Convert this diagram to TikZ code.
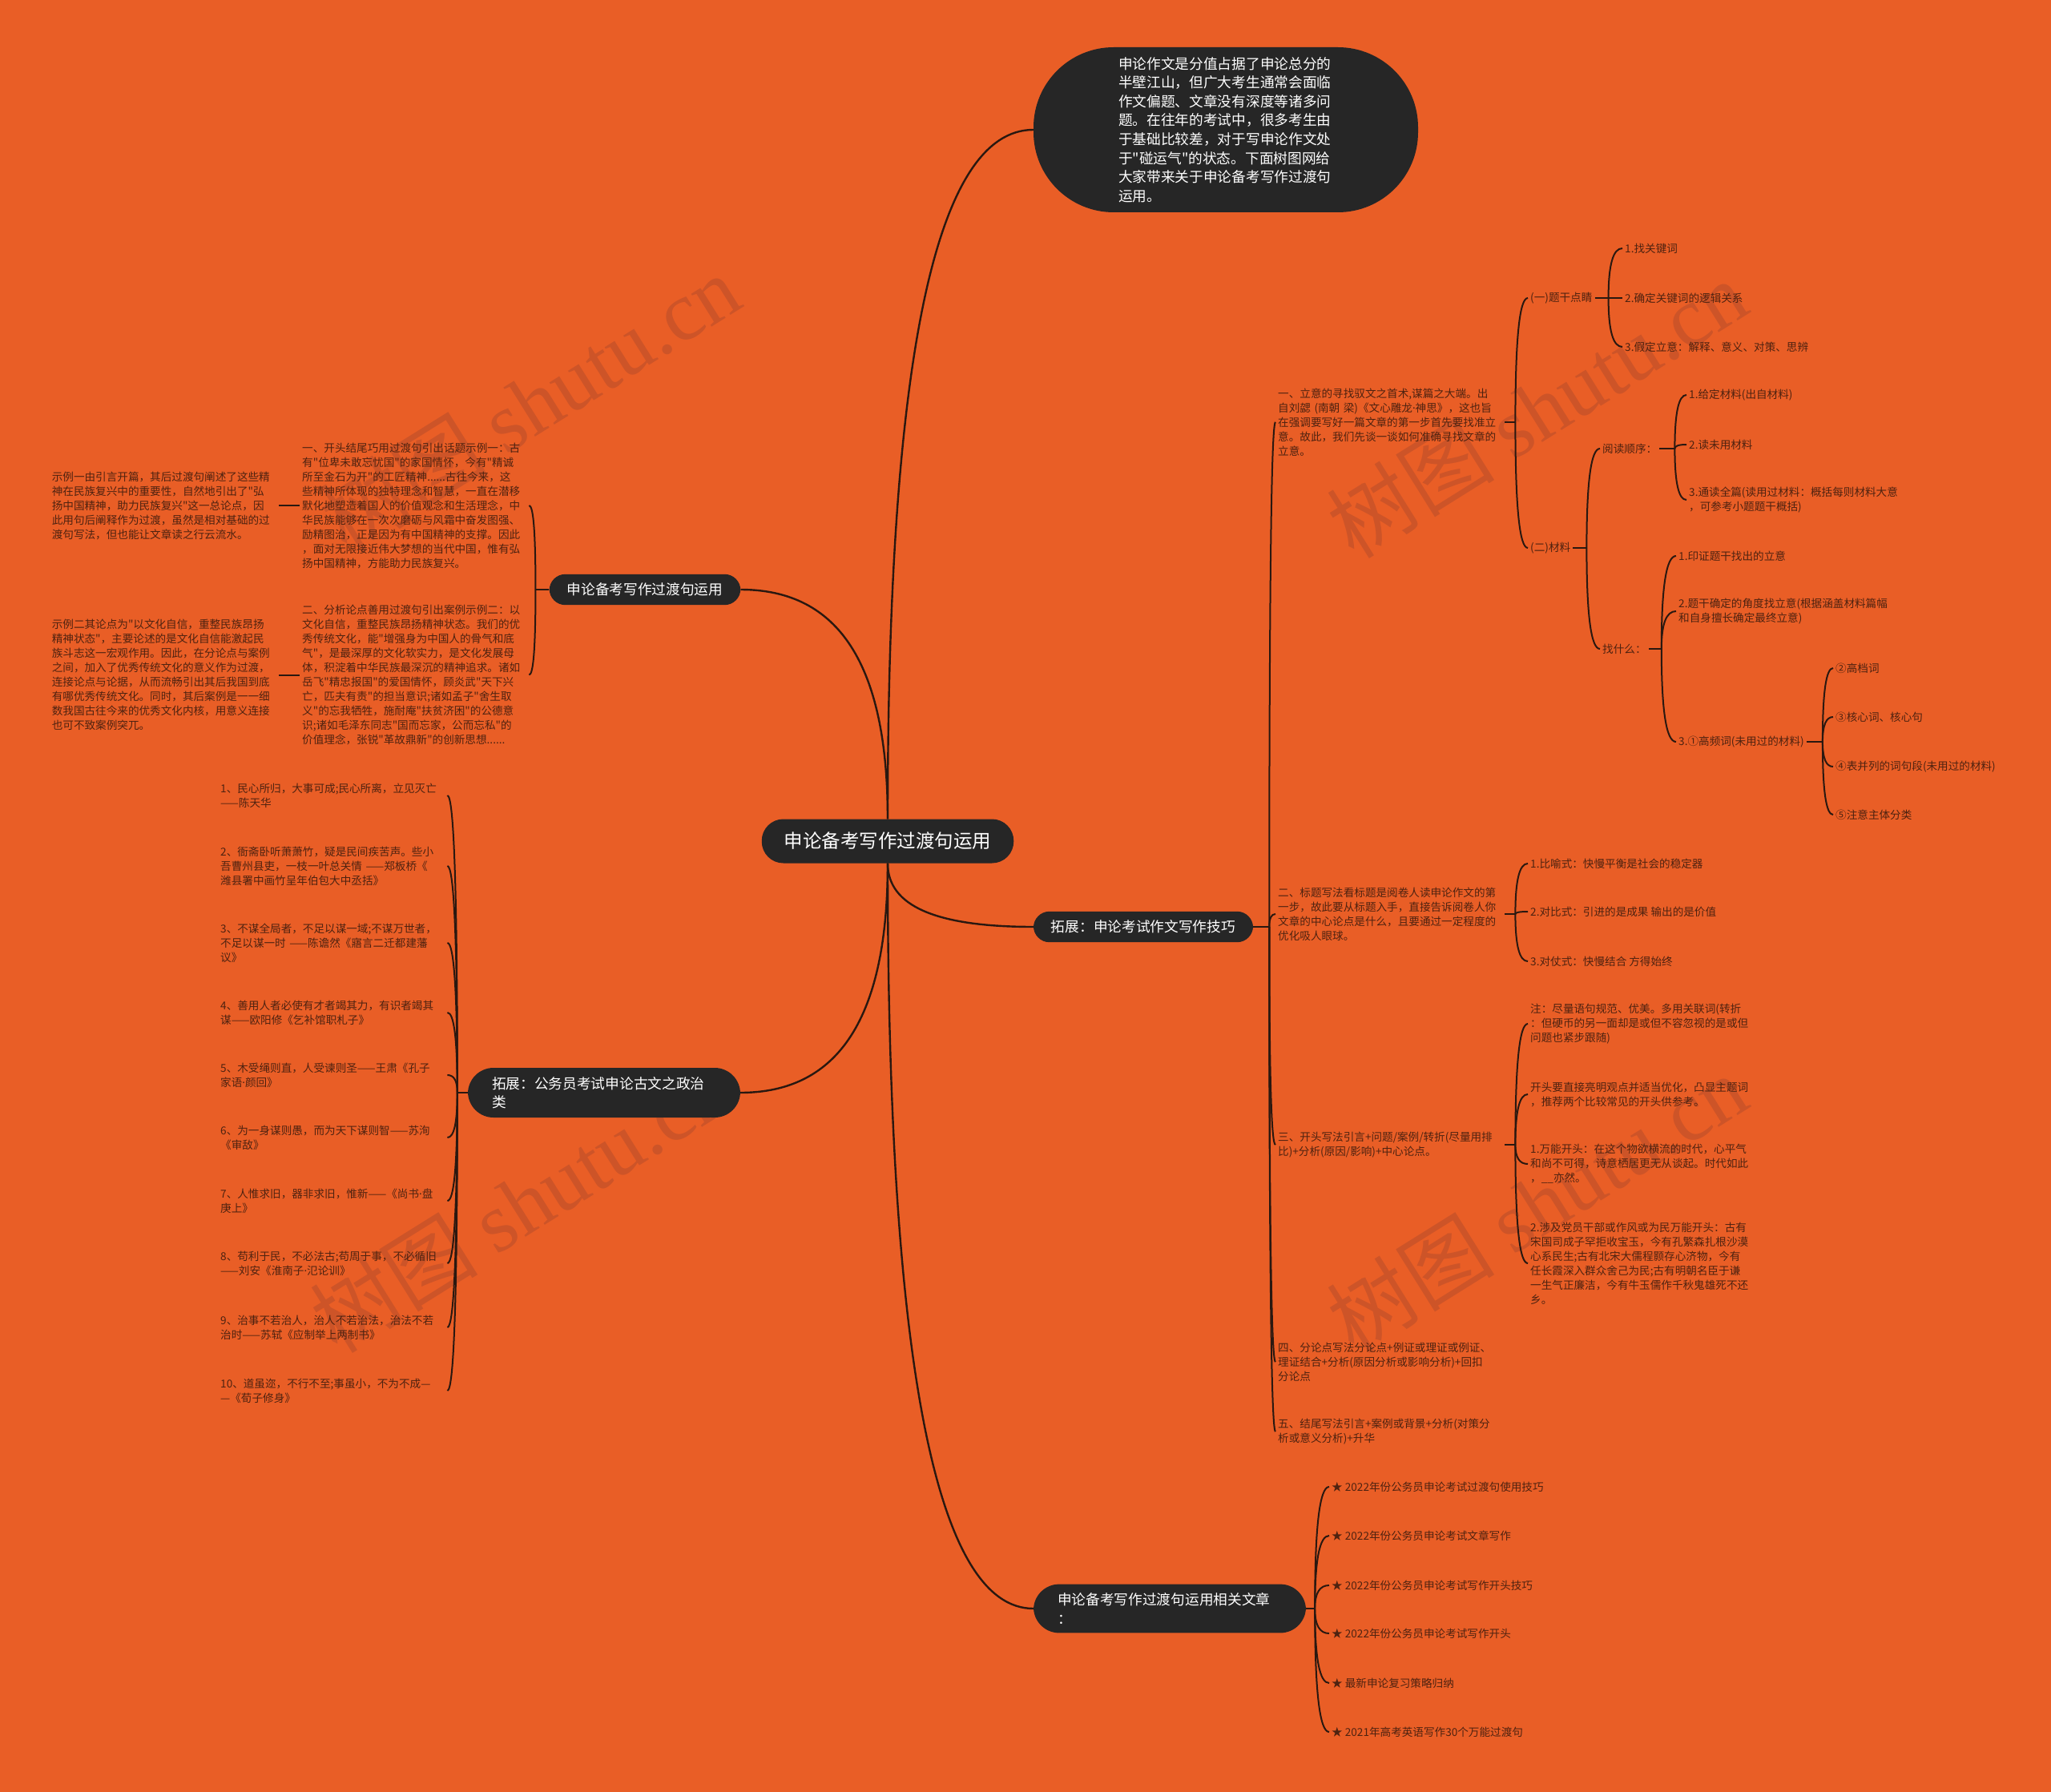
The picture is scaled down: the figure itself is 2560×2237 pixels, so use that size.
\documentclass[tikz,border=0pt]{standalone}
\usepackage{fontspec}
\setmainfont{Noto Sans CJK SC}[Ligatures=TeXOff]
\newfontfamily\wmlatin{Liberation Serif}
\newfontfamily\latinsans{Noto Sans}
\newcommand{\mdot}{{\latinsans ·}}
\usetikzlibrary{positioning,calc}
\definecolor{mBg}{RGB}{233,94,38}
\definecolor{mPill}{RGB}{38,38,38}
\definecolor{mLine}{RGB}{42,24,16}
\definecolor{mText}{RGB}{78,34,16}
\definecolor{mMark}{RGB}{205,84,40}
\tikzset{
  pill/.style={rectangle, rounded corners=20pt, fill=mPill, text=white,
               font=\fontsize{17.7}{23.6}\selectfont, inner xsep=22pt,
               inner ysep=11pt, align=left},
  pilltwo/.style={pill, rounded corners=32pt, text width=280pt, inner xsep=30pt},
  hub/.style={pill, rounded corners=27pt, font=\fontsize{23.5}{28}\selectfont,
              minimum height=55pt, inner xsep=28pt},
  bubble/.style={pill, rounded corners=100pt, text width=268pt,
                 inner xsep=106pt, minimum height=206pt},
  leaf/.style={rectangle, anchor=west, text=mText,
               font=\fontsize{13.6}{18}\selectfont, align=left,
               inner xsep=3pt, inner ysep=2pt},
  block/.style={leaf, text width=280pt},
  limb/.style={draw=mLine, line width=2.4pt},
  twig/.style={draw=mLine, line width=2pt},
  wmark/.style={text=mMark, rotate=32, font=\fontsize{105}{110}\selectfont},
}
\newcommand{\Link}[3][twig]{% {from}{to}
  \draw[#1] (#2) .. controls ($(#2)!.67!(#2|-#3)$) and ($(#3)!.67!(#2|-#3)$) .. (#3);}
\newcommand{\Fork}[4]{% {parent}{junction}{shift}{children}
  \coordinate (#2) at ([xshift=#3]#1);
  \draw[twig] (#1) -- (#2);
  \foreach \kid in {#4}{\edef\tmp{\noexpand\Link{#2}{\kid}}\tmp}}

\begin{document}
\begin{tikzpicture}[x=1pt, y=-1pt]
  \useasboundingbox (0,0) rectangle (2560,2237);
  \fill[mBg] (0,0) rectangle (2560,2237);

  % watermarks
  \node[wmark] (wm1) at (661,503) {树图 {\wmlatin shutu.cn}};
  \node[wmark] (wm2) at (1918,510) {树图 {\wmlatin shutu.cn}};
  \node[wmark] (wm3) at (649,1502) {树图 {\wmlatin shutu.cn}};
  \node[wmark] (wm4) at (1918,1502) {树图 {\wmlatin shutu.cn}};

  % main topics
  \node[hub] (ctr) at (1108,1050) {申论备考写作过渡句运用};
  \node[bubble] (intro) at (1530,162) {申论作文是分值占据了申论总分的\\半壁江山，但广大考生通常会面临\\作文偏题、文章没有深度等诸多问\\题。在往年的考试中，很多考生由\\于基础比较差，对于写申论作文处\\于"碰运气"的状态。下面树图网给\\大家带来关于申论备考写作过渡句\\运用。};
  \node[pill] (lt1) at (805,736) {申论备考写作过渡句运用};
  \node[pilltwo] (lt2) at (754,1364) {拓展：公务员考试申论古文之政治\\类};
  \node[pill] (rt1) at (1427,1157) {拓展：申论考试作文写作技巧};
  \node[pilltwo] (rt2) at (1460,2008) {申论备考写作过渡句运用相关文章\\：};

  \Link[limb]{ctr.north}{intro.west}
  \Link[limb]{ctr.north}{lt1.east}
  \Link[limb]{ctr.south}{lt2.east}
  \Link[limb]{ctr.south}{rt1.west}
  \Link[limb]{ctr.south}{rt2.west}

  % left: examples
  \node[block] (k1) at (374,631) {一、开头结尾巧用过渡句引出话题示例一：古\\有"位卑未敢忘忧国"的家国情怀，今有"精诚\\所至金石为开"的工匠精神......古往今来，这\\些精神所体现的独特理念和智慧，一直在潜移\\默化地塑造着国人的价值观念和生活理念，中\\华民族能够在一次次磨砺与风霜中奋发图强、\\励精图治，正是因为有中国精神的支撑。因此\\，面对无限接近伟大梦想的当代中国，惟有弘\\扬中国精神，方能助力民族复兴。};
  \node[block] (k2) at (374,842.5) {二、分析论点善用过渡句引出案例示例二：以\\文化自信，重整民族昂扬精神状态。我们的优\\秀传统文化，能"增强身为中国人的骨气和底\\气"，是最深厚的文化软实力，是文化发展母\\体，积淀着中华民族最深沉的精神追求。诸如\\岳飞"精忠报国"的爱国情怀，顾炎武"天下兴\\亡，匹夫有责"的担当意识;诸如孟子"舍生取\\义"的忘我牺牲，施耐庵"扶贫济困"的公德意\\识;诸如毛泽东同志"国而忘家，公而忘私"的\\价值理念，张锐"革故鼎新"的创新思想......};
  \node[block, left=26pt of k1] (e1) {示例一由引言开篇，其后过渡句阐述了这些精\\神在民族复兴中的重要性，自然地引出了"弘\\扬中国精神，助力民族复兴"这一总论点，因\\此用句后阐释作为过渡，虽然是相对基础的过\\渡句写法，但也能让文章读之行云流水。};
  \node[block, left=26pt of k2] (e2) {示例二其论点为"以文化自信，重整民族昂扬\\精神状态"，主要论述的是文化自信能激起民\\族斗志这一宏观作用。因此，在分论点与案例\\之间，加入了优秀传统文化的意义作为过渡，\\连接论点与论据，从而流畅引出其后我国到底\\有哪优秀传统文化。同时，其后案例是一一细\\数我国古往今来的优秀文化内核，用意义连接\\也可不致案例突兀。};
  \Fork{lt1.west}{lt1j}{-17pt}{k1.east,k2.east}
  \draw[twig] (e1.east) -- (k1.west);
  \draw[twig] (e2.east) -- (k2.west);

  % left: quotations
  \node[block] (q1) at (272,993) {1、民心所归，大事可成;民心所离，立见灭亡\\——陈天华};
  \node[block] (q2) at (272,1081) {2、衙斋卧听萧萧竹，疑是民间疾苦声。些小\\吾曹州县吏，一枝一叶总关情 ——郑板桥《\\潍县署中画竹呈年伯包大中丞括》};
  \node[block] (q3) at (272,1177) {3、不谋全局者，不足以谋一域;不谋万世者，\\不足以谋一时 ——陈谵然《寤言二迁都建藩\\议》};
  \node[block] (q4) at (272,1264) {4、善用人者必使有才者竭其力，有识者竭其\\谋——欧阳修《乞补馆职札子》};
  \node[block] (q5) at (272,1342) {5、木受绳则直，人受谏则圣——王肃《孔子\\家语\mdot 颜回》};
  \node[block] (q6) at (272,1420) {6、为一身谋则愚，而为天下谋则智——苏洵\\《审敌》};
  \node[block] (q7) at (272,1499) {7、人惟求旧，器非求旧，惟新——《尚书\mdot 盘\\庚上》};
  \node[block] (q8) at (272,1577) {8、苟利于民，不必法古;苟周于事，不必循旧\\——刘安《淮南子\mdot 氾论训》};
  \node[block] (q9) at (272,1657) {9、治事不若治人，治人不若治法，治法不若\\治时——苏轼《应制举上两制书》};
  \node[block] (q10) at (272,1736) {10、道虽迩，不行不至;事虽小，不为不成—\\—《荀子修身》};
  \Fork{lt2.west}{lt2j}{-13pt}{q1.east,q2.east,q3.east,q4.east,q5.east,q6.east,q7.east,q8.east,q9.east,q10.east}

  % right: writing skills
  \node[block] (r1a) at (1592,527) {一、立意的寻找驭文之首术,谋篇之大端。出\\自刘勰 (南朝 梁)《文心雕龙\mdot 神思》，这也旨\\在强调要写好一篇文章的第一步首先要找准立\\意。故此，我们先谈一谈如何准确寻找文章的\\立意。};
  \node[block] (r1b) at (1592,1141) {二、标题写法看标题是阅卷人读申论作文的第\\一步，故此要从标题入手，直接告诉阅卷人你\\文章的中心论点是什么，且要通过一定程度的\\优化吸人眼球。};
  \node[block] (r1c) at (1592,1429) {三、开头写法引言+问题/案例/转折(尽量用排\\比)+分析(原因/影响)+中心论点。};
  \node[block] (r1d) at (1592,1700) {四、分论点写法分论点+例证或理证或例证、\\理证结合+分析(原因分析或影响分析)+回扣\\分论点};
  \node[block] (r1e) at (1592,1787) {五、结尾写法引言+案例或背景+分析(对策分\\析或意义分析)+升华};
  \Fork{rt1.east}{rt1j}{20pt}{r1a.west,r1b.west,r1c.west,r1d.west,r1e.west}

  \node[leaf] (s1) at (1907,372) {(一)题干点睛};
  \node[leaf] (s2) at (1907,684) {(二)材料};
  \Fork{r1a.east}{r1aj}{13pt}{s1.west,s2.west}
  \node[leaf] (s1a) at (2025,310) {1.找关键词};
  \node[leaf] (s1b) at (2025,372) {2.确定关键词的逻辑关系};
  \node[leaf] (s1c) at (2025,433) {3.假定立意：解释、意义、对策、思辨};
  \Fork{s1.east}{s1j}{17pt}{s1a.west,s1b.west,s1c.west}
  \node[leaf] (t1) at (1997,560) {阅读顺序：};
  \node[leaf] (t2) at (1997,810) {找什么：};
  \Fork{s2.east}{s2j}{17pt}{t1.west,t2.west}
  \node[leaf] (t1a) at (2105,493) {1.给定材料(出自材料)};
  \node[leaf] (t1b) at (2105,555) {2.读未用材料};
  \node[leaf] (t1c) at (2105,624) {3.通读全篇(读用过材料：概括每则材料大意\\，可参考小题题干概括)};
  \Fork{t1.east}{t1j}{19pt}{t1a.west,t1b.west,t1c.west}
  \node[leaf] (t2a) at (2092,694) {1.印证题干找出的立意};
  \node[leaf] (t2b) at (2092,763) {2.题干确定的角度找立意(根据涵盖材料篇幅\\和自身擅长确定最终立意)};
  \node[leaf] (t2c) at (2092,926) {3.①高频词(未用过的材料)};
  \Fork{t2.east}{t2j}{16pt}{t2a.west,t2b.west,t2c.west}
  \node[leaf] (u1) at (2288,834) {②高档词};
  \node[leaf] (u2) at (2288,895) {③核心词、核心句};
  \node[leaf] (u3) at (2288,957) {④表并列的词句段(未用过的材料)};
  \node[leaf] (u4) at (2288,1017) {⑤注意主体分类};
  \Fork{t2c.east}{t2cj}{20pt}{u1.west,u2.west,u3.west,u4.west}

  \node[leaf] (v1) at (1907,1078) {1.比喻式：快慢平衡是社会的稳定器};
  \node[leaf] (v2) at (1907,1138) {2.对比式：引进的是成果 输出的是价值};
  \node[leaf] (v3) at (1907,1200) {3.对仗式：快慢结合 方得始终};
  \Fork{r1b.east}{r1bj}{13pt}{v1.west,v2.west,v3.west}

  \node[leaf] (w1) at (1907,1278) {注：尽量语句规范、优美。多用关联词(转折\\：但硬币的另一面却是或但不容忽视的是或但\\问题也紧步跟随)};
  \node[leaf] (w2) at (1907,1366) {开头要直接亮明观点并适当优化，凸显主题词\\，推荐两个比较常见的开头供参考。};
  \node[leaf] (w3) at (1907,1453) {1.万能开头：在这个物欲横流的时代，心平气\\和尚不可得，诗意栖居更无从谈起。时代如此\\，\_\_亦然。};
  \node[leaf] (w4) at (1907,1577) {2.涉及党员干部或作风或为民万能开头：古有\\宋国司成子罕拒收宝玉，今有孔繁森扎根沙漠\\心系民生;古有北宋大儒程颢存心济物，今有\\任长霞深入群众舍己为民;古有明朝名臣于谦\\一生气正廉洁，今有牛玉儒作千秋鬼雄死不还\\乡。};
  \Fork{r1c.east}{r1cj}{13pt}{w1.west,w2.west,w3.west,w4.west}

  % right: related articles
  \node[leaf] (x1) at (1659,1856) {★ 2022年份公务员申论考试过渡句使用技巧};
  \node[leaf] (x2) at (1659,1917) {★ 2022年份公务员申论考试文章写作};
  \node[leaf] (x3) at (1659,1979) {★ 2022年份公务员申论考试写作开头技巧};
  \node[leaf] (x4) at (1659,2039) {★ 2022年份公务员申论考试写作开头};
  \node[leaf] (x5) at (1659,2101) {★ 最新申论复习策略归纳};
  \node[leaf] (x6) at (1659,2162) {★ 2021年高考英语写作30个万能过渡句};
  \Fork{rt2.east}{rt2j}{11pt}{x1.west,x2.west,x3.west,x4.west,x5.west,x6.west}
\end{tikzpicture}
\end{document}
